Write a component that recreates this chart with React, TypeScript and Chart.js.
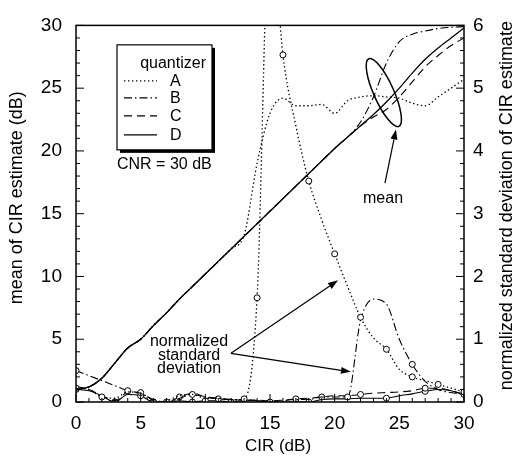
import { useEffect, useRef } from 'react';
import { Chart, registerables } from 'chart.js';

Chart.register(...registerables);

const CIR = [0, 1, 2, 3, 4, 5, 6, 7, 8, 9, 10, 11, 12, 13, 14, 15, 16, 17, 18, 19, 20, 21, 22, 23, 24, 25, 26, 27, 28, 29, 30];

// mean of CIR estimate (dB), left axis
const MEAN_A = [1.0, 1.2, 1.9, 3.1, 4.3, 5.0, 6.1, 7.1, 8.2, 9.2, 10.2, 11.2, 12.2, 13.3, 19.0, 23.0, 24.2, 23.6, 23.6, 23.7, 23.0, 24.0, 24.3, 24.4, 24.3, 24.2, 23.8, 23.6, 24.3, 25.0, 25.7];
const MEAN_B = [1.0, 1.2, 1.9, 3.1, 4.3, 5.0, 6.1, 7.1, 8.2, 9.2, 10.2, 11.2, 12.2, 13.2, 14.2, 15.2, 16.2, 17.2, 18.2, 19.2, 20.2, 21.1, 22.3, 24.3, 27.0, 28.7, 29.3, 29.55, 29.75, 29.85, 29.9];
const MEAN_C = [1.0, 1.2, 1.9, 3.1, 4.3, 5.0, 6.1, 7.1, 8.2, 9.2, 10.2, 11.2, 12.2, 13.2, 14.2, 15.2, 16.2, 17.2, 18.2, 19.2, 20.2, 21.1, 22.0, 22.7, 23.3, 24.3, 25.5, 26.7, 27.6, 28.4, 29.0];
const MEAN_D = [1.0, 1.2, 1.9, 3.1, 4.3, 5.0, 6.1, 7.1, 8.2, 9.2, 10.2, 11.2, 12.2, 13.2, 14.2, 15.2, 16.2, 17.2, 18.2, 19.2, 20.2, 21.1, 22.0, 22.9, 23.9, 25.0, 26.2, 27.3, 28.2, 29.0, 29.8];

// normalized standard deviation, right axis
const STD_A = [0.22, 0.2, 0.08, 0.06, 0.16, 0.14, 0.0, 0.02, 0.1, 0.12, 0.06, 0.06, 0.03, 0.05, 1.66, 7.8, 5.53, 4.4, 3.52, 2.9, 2.36, 1.84, 1.35, 1.02, 0.84, 0.52, 0.4, 0.34, 0.28, 0.22, 0.16];
const STD_B = [0.5, 0.42, 0.34, 0.26, 0.18, 0.14, 0.04, 0.0, 0.06, 0.12, 0.08, 0.06, 0.04, 0.04, 0.02, 0.0, 0.02, 0.04, 0.04, 0.08, 0.08, 0.08, 1.3, 1.64, 1.56, 1.0, 0.6, 0.33, 0.2, 0.15, 0.12];
const STD_C = [0.25, 0.2, 0.1, 0.02, 0.15, 0.15, 0.02, 0.0, 0.08, 0.14, 0.08, 0.05, 0.04, 0.03, 0.03, 0.02, 0.03, 0.05, 0.06, 0.08, 0.1, 0.1, 0.12, 0.14, 0.15, 0.16, 0.18, 0.22, 0.22, 0.18, 0.12];
const STD_D = [0.2, 0.18, 0.1, 0.0, 0.12, 0.1, 0.0, 0.0, 0.02, 0.0, 0.02, 0.02, 0.0, 0.02, 0.02, 0.0, 0.0, 0.0, 0.0, 0.04, 0.05, 0.05, 0.06, 0.06, 0.06, 0.1, 0.13, 0.17, 0.2, 0.18, 0.12];

// CIR values where an open circle marker is drawn on each std curve
const MARKS_A = [0, 2, 13, 14, 16, 18, 20, 22, 24, 26, 28, 30];
const MARKS_B = [0, 4, 9, 21, 26];
const MARKS_C = [5, 8, 11, 17, 19, 22, 27];
const MARKS_D = [0, 3, 5, 6, 7, 9, 10, 12, 15, 17, 18, 24, 27, 30];

const X_TICKS = [0, 5, 10, 15, 20, 25, 30];
const Y_TICKS = [0, 5, 10, 15, 20, 25, 30];
const Y2_TICKS = [0, 1, 2, 3, 4, 5, 6];

const QUANTIZERS = ['A', 'B', 'C', 'D'];

const FONT = '"Liberation Sans", Arial, Helvetica, sans-serif';
const DASHES: number[][] = [[1.4, 2.6], [8, 3, 1.5, 3], [8, 5], []];

const pts = (ys: number[]) => CIR.map((x, i) => ({ x, y: ys[i] }));

function arrow(ctx: CanvasRenderingContext2D, x1: number, y1: number, x2: number, y2: number) {
  const ang = Math.atan2(y2 - y1, x2 - x1);
  const hl = 10, hw = 3.5;
  const bx = x2 - hl * Math.cos(ang), by = y2 - hl * Math.sin(ang);
  ctx.beginPath();
  ctx.moveTo(x1, y1);
  ctx.lineTo(bx, by);
  ctx.stroke();
  ctx.beginPath();
  ctx.moveTo(x2, y2);
  ctx.lineTo(bx + hw * Math.sin(ang), by - hw * Math.cos(ang));
  ctx.lineTo(bx - hw * Math.sin(ang), by + hw * Math.cos(ang));
  ctx.closePath();
  ctx.fill();
}

const decor = {
  id: 'decor',
  afterDraw(chart: any) {
    const ctx: CanvasRenderingContext2D = chart.ctx;
    const xs = chart.scales.x, yl = chart.scales.y, yr = chart.scales.y2;
    const { left, right, top, bottom } = chart.chartArea;
    ctx.save();
    ctx.strokeStyle = '#000';
    ctx.fillStyle = '#000';
    ctx.setLineDash([]);

    // frame
    ctx.lineWidth = 1.5;
    ctx.strokeRect(left, top, right - left, bottom - top);

    // inner ticks
    ctx.lineWidth = 1;
    const seg = (a: number, b: number, c: number, d: number) => {
      ctx.beginPath(); ctx.moveTo(a, b); ctx.lineTo(c, d); ctx.stroke();
    };
    for (let v = xs.min; v <= xs.max; v += 1) {
      const p = xs.getPixelForValue(v);
      seg(p, bottom, p, bottom - (v % 5 === 0 ? 8 : 4));
    }
    for (let v = yl.min; v <= yl.max; v += 1) {
      const p = yl.getPixelForValue(v);
      seg(left, p, left + (v % 5 === 0 ? 8 : 4), p);
    }
    for (let i = 0; i <= (yr.max - yr.min) * 5; i++) {
      const p = yr.getPixelForValue(yr.min + i * 0.2);
      seg(right, p, right - (i % 5 === 0 ? 8 : 4), p);
    }

    // axis titles
    ctx.textAlign = 'center';
    ctx.textBaseline = 'middle';
    ctx.font = `18px ${FONT}`;
    const midY = (top + bottom) / 2;
    ctx.save();
    ctx.translate(left - 59, midY - 16);
    ctx.rotate(-Math.PI / 2);
    ctx.fillText('mean of CIR estimate (dB)', 0, 0);
    ctx.restore();
    ctx.save();
    ctx.translate(right + 43, midY - 8);
    ctx.rotate(-Math.PI / 2);
    ctx.fillText('normalized standard deviation of CIR estimate', 0, 0);
    ctx.restore();
    ctx.font = `17px ${FONT}`;
    ctx.fillText('CIR (dB)', (left + right) / 2 + 8, bottom + 44);

    // legend box
    const bx = xs.getPixelForValue(3.17), by = yl.getPixelForValue(28.45);
    const bw = 95, bh = 105;
    ctx.fillRect(bx + 3, by + 3, bw, bh);
    ctx.fillStyle = '#fff';
    ctx.fillRect(bx, by, bw, bh);
    ctx.fillStyle = '#000';
    ctx.lineWidth = 1.2;
    ctx.strokeRect(bx, by, bw, bh);
    ctx.font = `16px ${FONT}`;
    ctx.textAlign = 'right';
    ctx.fillText('quantizer', bx + 89, by + 19);
    const rows = [36, 53, 71, 90];
    QUANTIZERS.forEach((q, i) => {
      ctx.setLineDash(DASHES[i]);
      ctx.lineWidth = 1.1;
      seg(bx + 7, by + rows[i], bx + 40, by + rows[i]);
      ctx.setLineDash([]);
      ctx.textAlign = 'left';
      ctx.fillText(q, bx + 53, by + rows[i] + 1);
    });

    // CNR text
    ctx.textAlign = 'left';
    ctx.fillText('CNR = 30 dB', xs.getPixelForValue(3.17), yl.getPixelForValue(18.9));

    // normalized standard deviation annotation
    ctx.textAlign = 'center';
    const tx = xs.getPixelForValue(8.74);
    ctx.fillText('normalized', tx, yl.getPixelForValue(4.81));
    ctx.fillText('standard', tx, yl.getPixelForValue(3.72));
    ctx.fillText('deviation', tx, yl.getPixelForValue(2.64));
    ctx.lineWidth = 1.2;
    const ax = xs.getPixelForValue(11.98), ay = yl.getPixelForValue(3.88);
    arrow(ctx, ax, ay, xs.getPixelForValue(20.26), yl.getPixelForValue(9.69));
    arrow(ctx, ax, ay, xs.getPixelForValue(21.26), yl.getPixelForValue(2.4));

    // mean annotation
    ctx.fillText('mean', xs.getPixelForValue(23.74), yl.getPixelForValue(16.2));
    arrow(ctx, xs.getPixelForValue(23.89), yl.getPixelForValue(17.44), xs.getPixelForValue(24.74), yl.getPixelForValue(21.71));
    ctx.lineWidth = 1.5;
    ctx.beginPath();
    ctx.ellipse(xs.getPixelForValue(23.8), yl.getPixelForValue(24.65), 37, 10, (66 * Math.PI) / 180, 0, Math.PI * 2);
    ctx.stroke();

    ctx.restore();
  },
};

export default function App() {
  const ref = useRef<HTMLCanvasElement>(null);
  useEffect(() => {
    if (!ref.current) return;
    const meanDs = [MEAN_A, MEAN_B, MEAN_C, MEAN_D].map((m, i) => ({
      label: `mean ${QUANTIZERS[i]}`,
      data: pts(m),
      yAxisID: 'y',
      borderColor: '#000',
      borderWidth: i === 0 ? 1.3 : i === 3 ? 1.3 : 1.1,
      borderDash: DASHES[i],
      pointRadius: 0,
      cubicInterpolationMode: 'monotone' as const,
      fill: false,
    }));
    const marks = [MARKS_A, MARKS_B, MARKS_C, MARKS_D];
    const stdDs = [STD_A, STD_B, STD_C, STD_D].map((s, i) => ({
      label: `std ${QUANTIZERS[i]}`,
      data: pts(s),
      yAxisID: 'y2',
      borderColor: '#000',
      borderWidth: i === 0 ? 1.3 : 1.1,
      borderDash: DASHES[i],
      pointRadius: CIR.map((x) => (marks[i].includes(x) ? 3 : 0)),
      pointBorderWidth: 1,
      pointBorderColor: '#000',
      pointBackgroundColor: '#fff',
      cubicInterpolationMode: 'monotone' as const,
      fill: false,
    }));
    const tickFont = { family: FONT, size: 19 };
    const chart = new Chart(ref.current, {
      type: 'line',
      data: { datasets: [...meanDs, ...stdDs] as any },
      options: {
        animation: false,
        responsive: false,
        devicePixelRatio: 1,
        layout: { padding: { top: 15, left: 0, right: 0, bottom: 0 } },
        plugins: { legend: { display: false }, tooltip: { enabled: false } },
        scales: {
          x: {
            type: 'linear',
            min: 0,
            max: 30,
            afterBuildTicks: (s: any) => { s.ticks = X_TICKS.map((v) => ({ value: v })); },
            afterFit: (s: any) => { s.height = 58; },
            ticks: { font: tickFont, color: '#000', padding: 10, maxRotation: 0 },
            grid: { display: false, drawTicks: false },
            border: { display: false },
          },
          y: {
            position: 'left',
            min: 0,
            max: 30,
            afterBuildTicks: (s: any) => { s.ticks = Y_TICKS.map((v) => ({ value: v })); },
            afterFit: (s: any) => { s.width = 76; },
            ticks: { font: tickFont, color: '#000', padding: 14 },
            grid: { display: false, drawTicks: false },
            border: { display: false },
          },
          y2: {
            position: 'right',
            min: 0,
            max: 6,
            afterBuildTicks: (s: any) => { s.ticks = Y2_TICKS.map((v) => ({ value: v })); },
            afterFit: (s: any) => { s.width = 57; },
            ticks: { font: tickFont, color: '#000', padding: 9 },
            grid: { display: false, drawTicks: false },
            border: { display: false },
          },
        },
      },
      plugins: [decor],
    });
    return () => chart.destroy();
  }, []);
  return (
    <div style={{ position: 'fixed', left: 0, top: 0, width: 521, height: 460, background: '#fff' }}>
      <canvas ref={ref} width={521} height={460} style={{ display: 'block' }} />
    </div>
  );
}
